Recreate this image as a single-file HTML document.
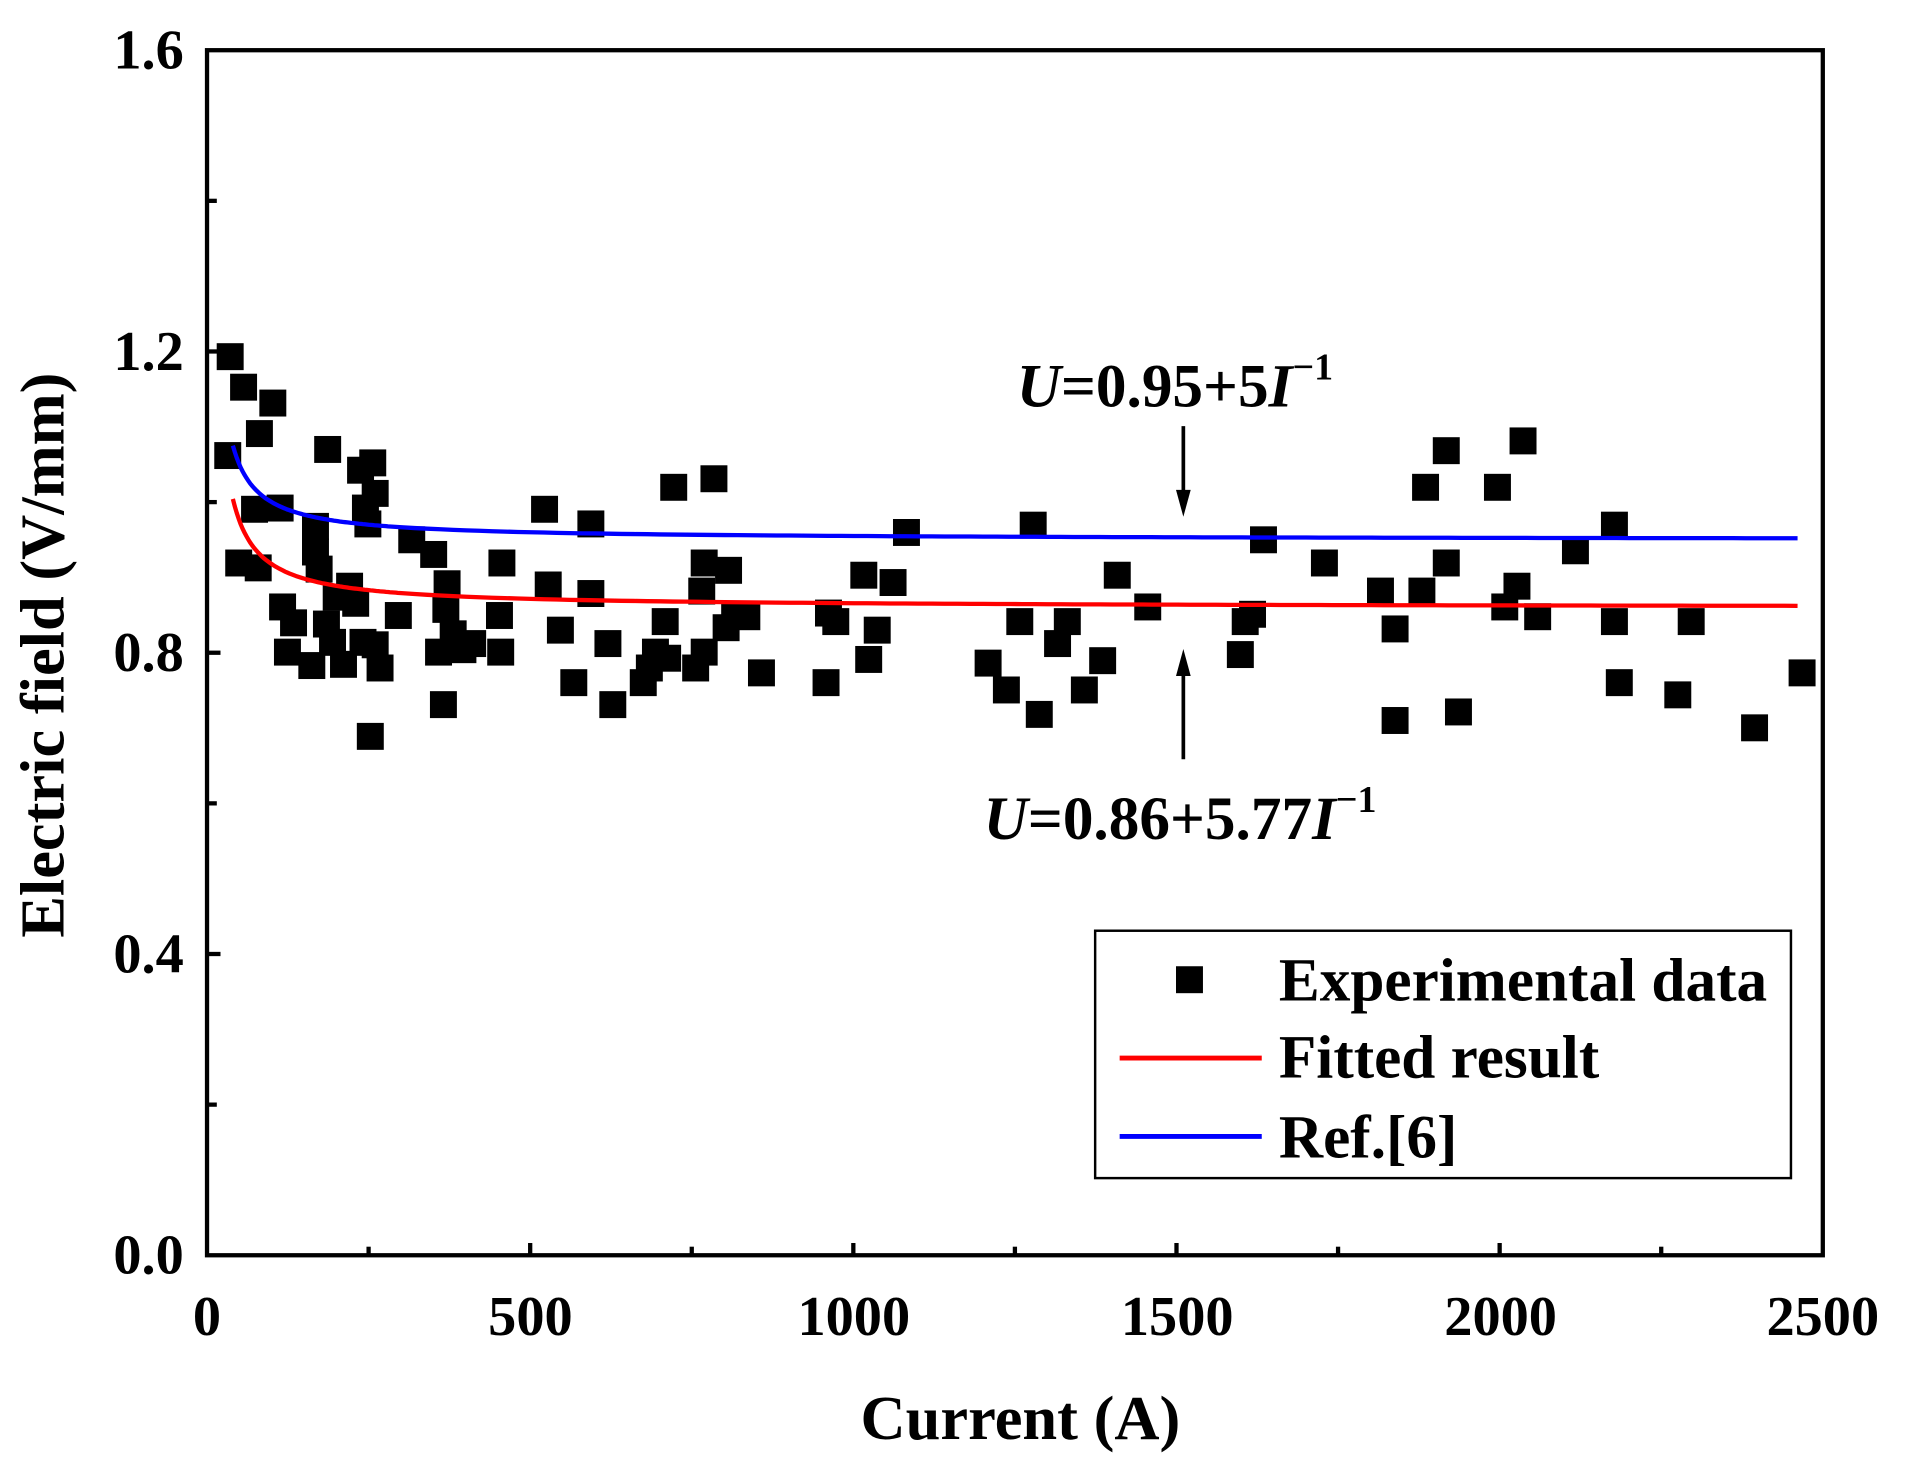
<!DOCTYPE html>
<html><head><meta charset="utf-8"><style>
html,body{margin:0;padding:0;background:#fff;}
svg{display:block;}
text{font-family:"Liberation Serif",serif;font-weight:bold;fill:#000;}
</style></head><body>
<svg width="1911" height="1461" viewBox="0 0 1560 1193" preserveAspectRatio="none" xmlns="http://www.w3.org/2000/svg">
<rect x="169" y="41" width="1319" height="984" fill="none" stroke="#000" stroke-width="3.5"/>
<g id="ticks" stroke="#000" stroke-width="3.5"></g>
<g font-size="46" text-anchor="end">
<text x="150" y="1040">0.0</text><text x="150" y="794">0.4</text><text x="150" y="548">0.8</text><text x="150" y="302">1.2</text><text x="150" y="56">1.6</text>
</g>
<g font-size="46" text-anchor="middle">
<text x="169" y="1090">0</text><text x="433" y="1090">500</text><text x="697" y="1090">1000</text><text x="961" y="1090">1500</text><text x="1225" y="1090">2000</text><text x="1488" y="1090">2500</text>
</g>
<text x="833" y="1175" font-size="51" text-anchor="middle">Current (A)</text>
<text transform="translate(52,535) rotate(-90)" font-size="51" text-anchor="middle">Electric field (V/mm)</text>
<g fill="#000" id="pts"></g>
<path id="blue" fill="none" stroke="#0000ff" stroke-width="3.5"/>
<path id="red" fill="none" stroke="#ff0000" stroke-width="3.5"/>
<g stroke="#000" stroke-width="3"><line x1="966" y1="348" x2="966" y2="405"/><line x1="966" y1="620" x2="966" y2="548"/></g>
<polygon points="960,400 972,400 966,422" fill="#000"/>
<polygon points="960,552 972,552 966,530" fill="#000"/>
<text x="830" y="332" font-size="50"><tspan font-style="italic">U</tspan>=0.95+5<tspan font-style="italic">I</tspan><tspan font-size="31" dy="-22">−1</tspan></text>
<text x="803" y="685" font-size="50"><tspan font-style="italic">U</tspan>=0.86+5.77<tspan font-style="italic">I</tspan><tspan font-size="31" dy="-22">−1</tspan></text>
<rect x="894" y="760" width="568" height="202" fill="#fff" stroke="#000" stroke-width="2"/>
<rect x="960" y="789" width="22" height="22" fill="#000"/>
<line x1="914" y1="864" x2="1030" y2="864" stroke="#ff0000" stroke-width="4"/>
<line x1="914" y1="928" x2="1030" y2="928" stroke="#0000ff" stroke-width="4"/>
<g font-size="50"><text x="1044" y="817">Experimental data</text><text x="1044" y="880">Fitted result</text><text x="1044" y="945">Ref.[6]</text></g>
<script>
var ns='http://www.w3.org/2000/svg';
function X(I){return 169+I*0.5276;} function Y(v){return 1025-v*615;}
var t=document.getElementById('ticks');
function ln(a,b,c,d){var l=document.createElementNS(ns,'line');l.setAttribute('x1',a);l.setAttribute('y1',b);l.setAttribute('x2',c);l.setAttribute('y2',d);t.appendChild(l);}
for(var i=1;i<8;i++){var y=Y(i*0.2);ln(169,y,i%2?177:180,y);}
for(var i=1;i<10;i++){var x=X(i*250);ln(x,1025,x,i%2?1018:1015);}
var p=[[189,293],[187,374],[200,318],[196,462],[213,356],[224,331],[209,418],[212,466],[230,417],[232,498],[236,535],[241,511],[256,546],[259,432],[259,453],[262,467],[268,512],[269,369],[276,490],[273,527],[282,545],[287,481],[292,495],[296,386],[298,527],[302,430],[300,417],[306,380],[308,405],[304,604],[312,548],[308,529],[327,505],[338,443],[356,455],[360,535],[364,578],[367,479],[366,500],[372,520],[380,533],[388,528],[410,505],[412,462],[411,535],[447,418],[450,480],[460,517],[471,560],[485,430],[485,487],[499,528],[503,578],[528,560],[533,548],[538,535],[546,510],[548,540],[553,400],[571,548],[576,485],[578,462],[586,393],[578,535],[598,468],[596,515],[603,505],[613,506],[625,552],[678,560],[680,503],[686,510],[709,472],[713,541],[720,517],[733,478],[744,437],[811,544],[826,566],[837,510],[848,431],[853,586],[868,528],[876,510],[890,566],[905,542],[917,472],[942,498],[1018,537],[1022,510],[1028,504],[1037,443],[1087,462],[1133,485],[1145,516],[1145,591],[1167,485],[1170,400],[1187,370],[1187,462],[1197,584],[1229,400],[1235,498],[1245,481],[1250,362],[1262,506],[1293,452],[1325,431],[1325,510],[1329,560],[1377,570],[1388,510],[1440,597],[1479,552]];
var g=document.getElementById('pts');
p.forEach(function(a){var x=169+(a[0]-170)*1319/1326,y=1025-(1029-a[1])*984/987;var r=document.createElementNS(ns,'rect');r.setAttribute('x',x-11);r.setAttribute('y',y-11);r.setAttribute('width',22);r.setAttribute('height',22);g.appendChild(r);});
function c(A,B){var d='';for(var I=40;I<=2470;I+=(I<300?3:20)){d+=(d?'L':'M')+X(I).toFixed(1)+','+Y(A+B/I).toFixed(1);}return d;}
document.getElementById('blue').setAttribute('d',c(0.95,5));
document.getElementById('red').setAttribute('d',c(0.86,5.77));
</script>
</svg>
</body></html>
